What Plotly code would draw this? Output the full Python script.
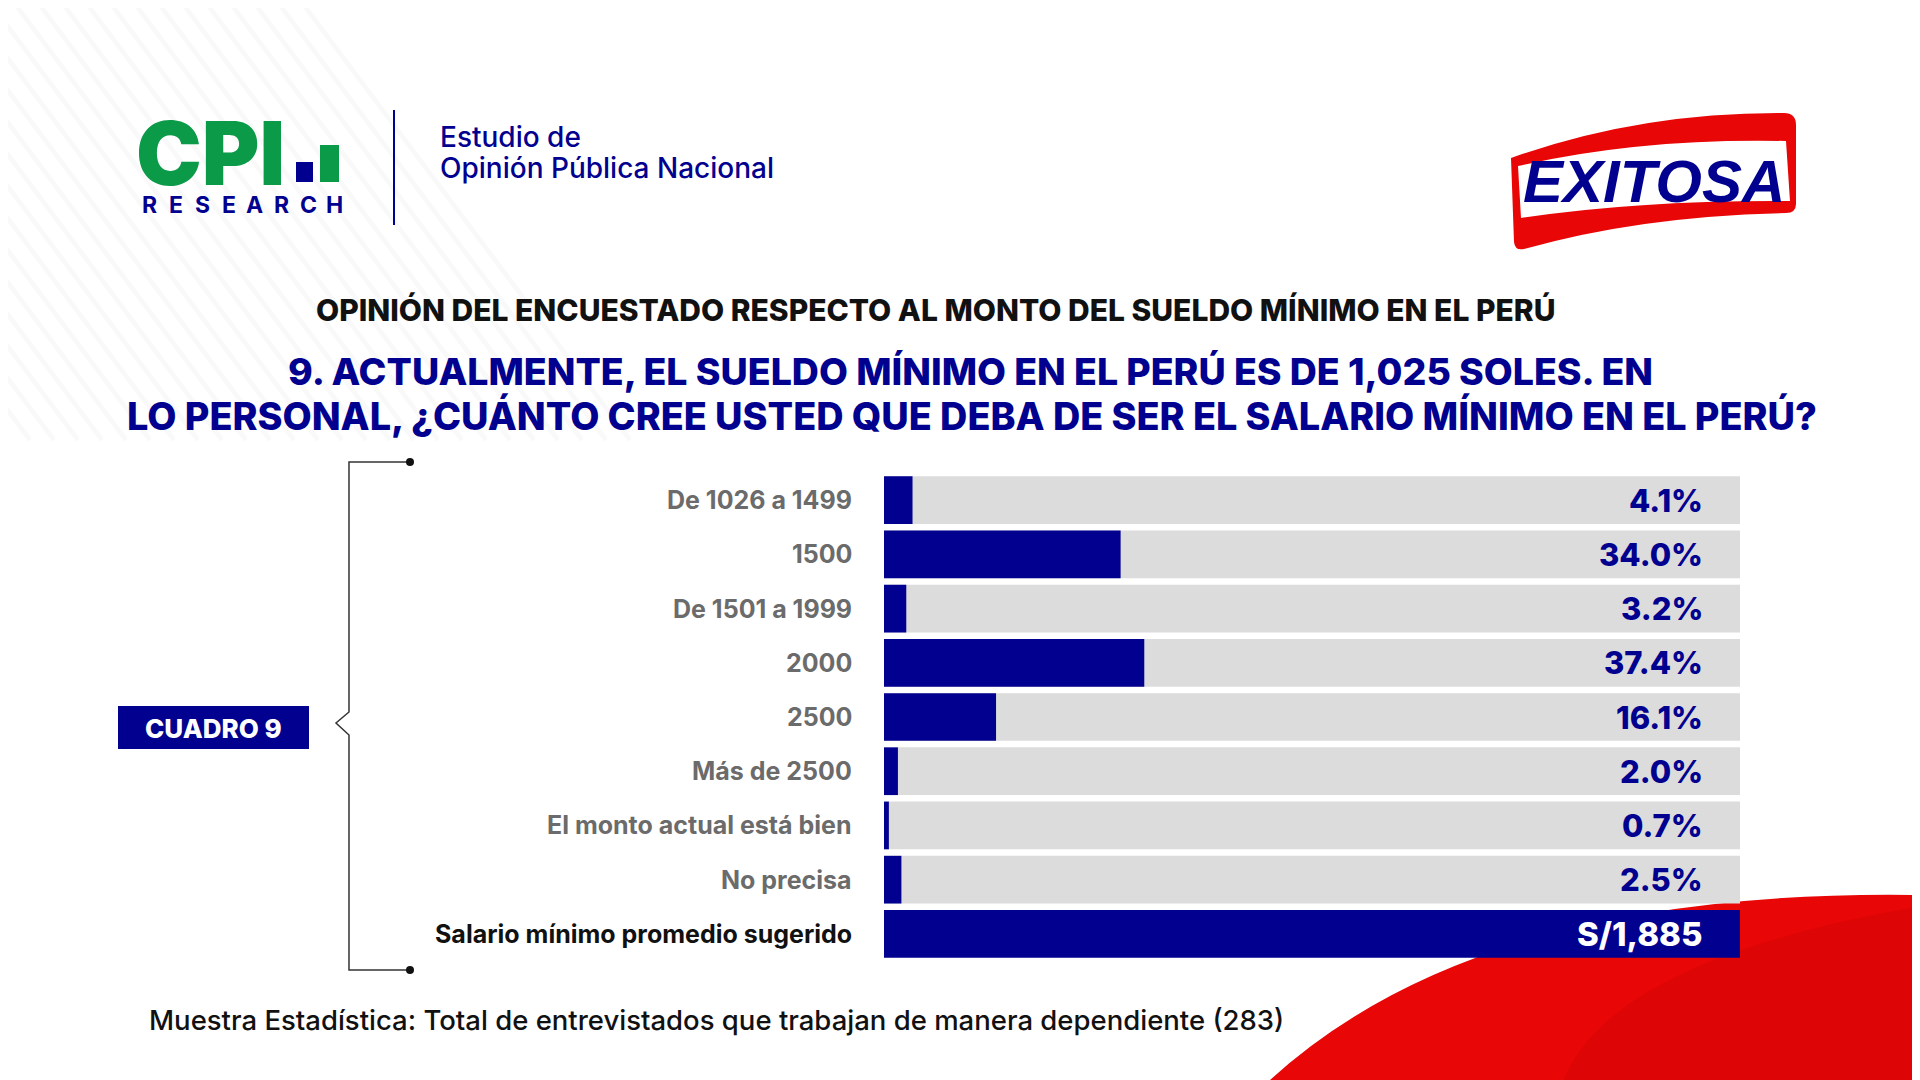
"""
Encuesta CPI / Exitosa - cuadro 9: sueldo mínimo sugerido
"""
import plotly.graph_objects as go

W, H = 1920, 1080
OFF = 8  # body margin of the html page

# data
categories = ["De 1026 a 1499", "1500", "De 1501 a 1999", "2000", "2500",
              "Más de 2500", "El monto actual está bien", "No precisa"]
percentages = [4.1, 34.0, 3.2, 37.4, 16.1, 2.0, 0.7, 2.5]
summary_label = "Salario mínimo promedio sugerido"
summary_value = 1885
scale_max = 123

# colours
NAVY = "#02008F"
GREEN = "#0A9A48"
GREY_BAR = "#DCDCDC"
GREY_TXT = "#6B6B6B"
RED = "#E80606"
FONT = "Inter, 'Open Sans', sans-serif"


def px(x):
    return (x - OFF) / W


def py(y):
    return 1 - (y - OFF) / H


def path(points, close=True):
    """Build an SVG path in paper coordinates from pixel points / commands."""
    out = []
    for p in points:
        if isinstance(p, str):
            out.append(p)
        else:
            out.append(f"{px(p[0]):.5f},{py(p[1]):.5f}")
    s = " ".join(out)
    return s + (" Z" if close else "")


def note(x, y, text, size, color, weight=700, xanchor="center", box_h=None, **kw):
    ann = dict(x=px(x), y=py(y), xref="paper", yref="paper",
               xanchor=xanchor, yanchor="middle", text=text, showarrow=False,
               font=dict(family=kw.pop("family", FONT), size=size,
                         weight=weight, color=color, **kw))
    if box_h:
        ann["height"] = box_h
        ann["valign"] = "middle"
    return ann


fig = go.Figure()

all_rows = categories + [summary_label]
row_idx = list(range(len(all_rows)))

# grey background bars
fig.add_trace(go.Bar(
    x=[scale_max] * len(categories), y=row_idx[:-1], orientation="h",
    marker=dict(color=GREY_BAR, line=dict(width=0)), width=0.88,
    hoverinfo="skip",
))
# values
fig.add_trace(go.Bar(
    x=percentages, y=row_idx[:-1], orientation="h",
    marker=dict(color=NAVY, line=dict(width=0)), width=0.88,
    customdata=categories,
    hovertemplate="%{customdata}: %{x:.1f}%<extra></extra>",
))
# summary row
fig.add_trace(go.Bar(
    x=[scale_max], y=[row_idx[-1]], orientation="h",
    marker=dict(color=NAVY, line=dict(width=0)), width=0.88,
    hovertemplate=f"{summary_label}: S/{summary_value:,}<extra></extra>",
))

annotations = []

# row labels
for i, cat in enumerate(all_rows):
    is_summary = cat == summary_label
    annotations.append(dict(
        x=px(854), xref="paper", y=i, yref="y", xanchor="right", yanchor="middle",
        text=cat, showarrow=False,
        font=dict(family=FONT, size=25, weight=700,
                  color="#111111" if is_summary else GREY_TXT),
    ))

# value labels
for i, v in enumerate(percentages):
    annotations.append(dict(
        x=scale_max, xref="x", y=i, yref="y", xanchor="right", yanchor="middle",
        xshift=-35, text=f"{v:.1f}%", showarrow=False,
        font=dict(family=FONT, size=31, weight=800, color=NAVY),
    ))
annotations.append(dict(
    x=scale_max, xref="x", y=row_idx[-1], yref="y", xanchor="right",
    yanchor="middle", xshift=-35, text=f"S/{summary_value:,}", showarrow=False,
    font=dict(family=FONT, size=33, weight=800, color="white"),
))

# titles and footer
annotations += [
    note(935, 310, "OPINIÓN DEL ENCUESTADO RESPECTO AL MONTO DEL SUELDO MÍNIMO EN EL PERÚ",
         30, "#111111", 800),
    note(970, 371, "9. ACTUALMENTE, EL SUELDO MÍNIMO EN EL PERÚ ES DE 1,025 SOLES. EN",
         37.5, NAVY, 800),
    note(972, 416, "LO PERSONAL, ¿CUÁNTO CREE USTED QUE DEBA DE SER EL SALARIO MÍNIMO EN EL PERÚ?",
         37.8, NAVY, 800),
    note(147, 1020, "Muestra Estadística: Total de entrevistados que trabajan de manera dependiente (283)",
         27.5, "#111111", 500, xanchor="left"),
    note(213, 728, "CUADRO 9", 26, "white", 800),
]

# CPI logo
annotations.append(note(134, 153, "CPI", 88, GREEN, 900, xanchor="left", box_h=68))
for i, ch in enumerate("RESEARCH"):
    annotations.append(note(149 + i * 26.5, 205, ch, 23, NAVY, 700))
annotations += [
    note(438, 137, "Estudio de", 28, NAVY, 500, xanchor="left"),
    note(438, 168, "Opinión Pública Nacional", 28, NAVY, 500, xanchor="left"),
    note(1654, 181, "EXITOSA", 60, NAVY, 900,
         family="'Liberation Sans', Arial, sans-serif", style="italic"),
]

shapes = []

# faint diagonal stripes in the top-left background
for i in range(26):
    x0 = -300 + i * 24
    shapes.append(dict(type="line", xref="paper", yref="paper", layer="below",
                       x0=px(x0), y0=py(0), x1=px(x0 + 330), y1=py(440),
                       line=dict(color="rgba(0,0,0,0.022)", width=5)))

# red swoosh bottom right, with a darker inner sweep
shapes += [
    dict(type="path", xref="paper", yref="paper", layer="below",
         path=path(["M", (1270, 1080), "Q", (1480, 888), (1920, 895),
                    "L", (1928, 895), "L", (1928, 1090), "L", (1270, 1090)]),
         fillcolor=RED, line=dict(width=0)),
    dict(type="path", xref="paper", yref="paper", layer="below",
         path=path(["M", (1560, 1090), "Q", (1600, 960), (1928, 905),
                    "L", (1928, 1090)]),
         fillcolor="rgba(150,0,0,0.12)", line=dict(width=0)),
]

# CPI small bars + divider
shapes += [
    dict(type="rect", xref="paper", yref="paper",
         x0=px(296), x1=px(313), y0=py(182), y1=py(162),
         fillcolor=NAVY, line=dict(width=0)),
    dict(type="rect", xref="paper", yref="paper",
         x0=px(320), x1=px(339), y0=py(182), y1=py(145),
         fillcolor=GREEN, line=dict(width=0)),
    dict(type="line", xref="paper", yref="paper",
         x0=px(394), x1=px(394), y0=py(110), y1=py(225),
         line=dict(color=NAVY, width=2)),
]

# Exitosa badge
shapes += [
    dict(type="path", xref="paper", yref="paper",
         path=path(["M", (1511, 158), "Q", (1640, 112), (1784, 113),
                    "Q", (1796, 113), (1796, 125), "L", (1796, 204),
                    "Q", (1796, 213), (1786, 213), "Q", (1640, 216), (1524, 249),
                    "Q", (1515, 251), (1514, 242)]),
         fillcolor=RED, line=dict(width=0)),
    dict(type="path", xref="paper", yref="paper",
         path=path(["M", (1518, 166), "Q", (1640, 138), (1786, 141),
                    "L", (1790, 201), "Q", (1640, 200), (1521, 218)]),
         fillcolor="white", line=dict(width=0)),
]

# CUADRO 9 box
shapes.append(dict(type="rect", xref="paper", yref="paper",
                   x0=px(118), x1=px(309), y0=py(749), y1=py(706),
                   fillcolor=NAVY, line=dict(width=0)))

# bracket
shapes.append(dict(
    type="path", xref="paper", yref="paper",
    path=path(["M", (410, 462), "L", (349, 462), "L", (349, 712),
               "L", (336, 723), "L", (349, 735), "L", (349, 970),
               "L", (410, 970)], close=False),
    line=dict(color="#333333", width=1.5),
))
for yy in (462, 970):
    shapes.append(dict(type="circle", xref="paper", yref="paper",
                       x0=px(406), x1=px(414), y0=py(yy - 4), y1=py(yy + 4),
                       fillcolor="#111111", line=dict(width=0)))

fig.update_layout(
    width=W, height=H,
    margin=dict(l=0, r=0, t=0, b=0),
    paper_bgcolor="white",
    plot_bgcolor="rgba(0,0,0,0)",
    barmode="overlay",
    showlegend=False,
    font=dict(family=FONT),
    xaxis=dict(domain=[px(884), px(1740)], range=[0, scale_max],
               visible=False, fixedrange=True),
    yaxis=dict(domain=[py(961), py(473)],
               range=[len(all_rows) - 0.5, -0.5],
               visible=False, fixedrange=True),
    annotations=annotations,
    shapes=shapes,
)

fig.write_html("out.html")
